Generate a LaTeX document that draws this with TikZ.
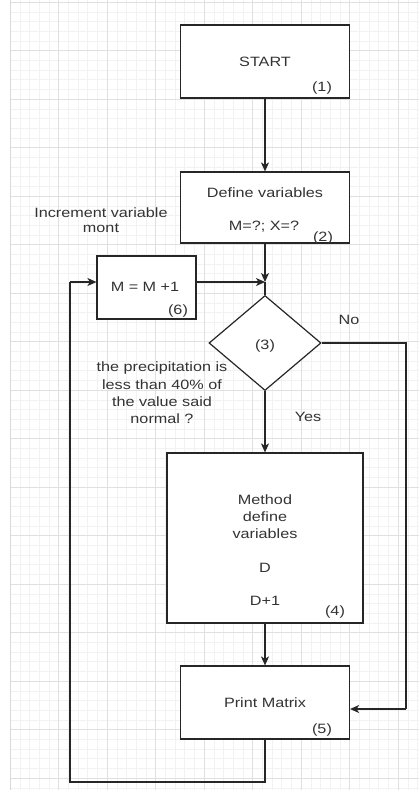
\documentclass[tikz,border=0pt]{standalone}
\usepackage{fontspec}
\setmainfont{Liberation Sans}[FakeStretch=1.2]
\usetikzlibrary{arrows.meta,shapes.geometric,calc}
\tikzset{
  box/.style={draw=black!85, line width=1.2pt, rectangle, inner sep=0pt, fill=white},
  dia/.style={draw=black!85, line width=1.2pt, diamond, inner sep=0pt, fill=white},
  conn/.style={draw=black!85, line width=1.2pt},
  arr/.style={conn, -{Stealth[length=9pt,width=8pt,inset=2.5pt]}},
  lbl/.style={font=\fontsize{13.5}{17.3}\selectfont, text=black!80, inner sep=0pt, align=center},
  minorgrid/.style={draw=black!5, line width=0.4pt},
  majorgrid/.style={draw=black!12, line width=0.6pt},
}
\begin{document}
\begin{tikzpicture}[x=1pt,y=-1pt]
\useasboundingbox (0,0) rectangle (419,790);
\fill[white] (0,0) rectangle (419,790);
% background grid
\foreach \i in {0,...,42} {\draw[minorgrid] ({10+9.7*\i},0) -- ({10+9.7*\i},790);}
\foreach \j in {0,...,81} {\draw[minorgrid] (10,{2+9.7*\j}) -- (419,{2+9.7*\j});}
\foreach \i in {0,...,8} {\draw[majorgrid] ({10+48.5*\i},0) -- ({10+48.5*\i},790);}
\foreach \j in {0,...,16} {\draw[majorgrid] (10,{2+48.5*\j}) -- (419,{2+48.5*\j});}
\draw[draw=black!15, line width=1pt] (10,0) -- (10,790);

% shapes
\node[box, minimum width=169pt, minimum height=73pt] (start) at (265,61.5) {};
\node[box, minimum width=169pt, minimum height=71pt] (define) at (265,207.5) {};
\node[box, minimum width=99pt, minimum height=63pt] (inc) at (146.5,287.5) {};
\node[dia, minimum width=112pt, minimum height=95pt] (cond) at (265,343) {};
\node[box, minimum width=196pt, minimum height=170pt] (method) at (265,538) {};
\node[box, minimum width=169pt, minimum height=73pt] (print) at (265,702.5) {};

% texts
\node[lbl] (tstart) at (265,62) {START};
\node[lbl] (n1) at (322,88) {(1)};
\node[lbl] (tdef) at (265,193) {Define variables};
\node[lbl] (tmx) at (264,227) {M=?; X=?};
\node[lbl] (n2) at (323,238) {(2)};
\node[lbl, font=\fontsize{13.5}{15}\selectfont] (tincl) at (101,220) {Increment variable\\mont};
\node[lbl] (tinc) at (145,287) {M = M +1};
\node[lbl] (n6) at (178,311) {(6)};
\node[lbl] (n3) at (265,346) {(3)};
\node[lbl] (tno) at (349,320) {No};
\node[lbl] (tq) at (162,393) {the precipitation is\\less than 40\% of\\the value said\\normal ?};
\node[lbl] (tyes) at (308,417) {Yes};
\node[lbl] (tmeth) at (265,550) {Method\\define\\variables\\[16pt]D\\[16pt]D+1};
\node[lbl] (n4) at (335,612) {(4)};
\node[lbl] (tprint) at (265,703) {Print Matrix};
\node[lbl] (n5) at (322,730) {(5)};

% connectors
\coordinate (junc) at (265,282);
\coordinate (noA) at (406,343);
\coordinate (noB) at (406,709);
\coordinate (loopA) at (265,782);
\coordinate (loopB) at (70,782);
\coordinate (loopC) at (70,282);

\draw[arr] (start) -- (define);
\draw[arr] (define) -- (junc);
\draw[conn] (junc) -- (cond.north);
\draw[arr] (junc -| inc.east) -- (junc);
\draw[arr] (cond.south) -- (method.north);
\draw[arr] (method.south) -- (print.north);
\draw[conn] (cond.east) -- (noA) -- (noB);
\draw[arr] (noB) -- (noB -| print.east);
\draw[conn] (print.south) -- (loopA) -- (loopB) -- (loopC);
\draw[arr] (loopC) -- (loopC -| inc.west);
\end{tikzpicture}
\end{document}
